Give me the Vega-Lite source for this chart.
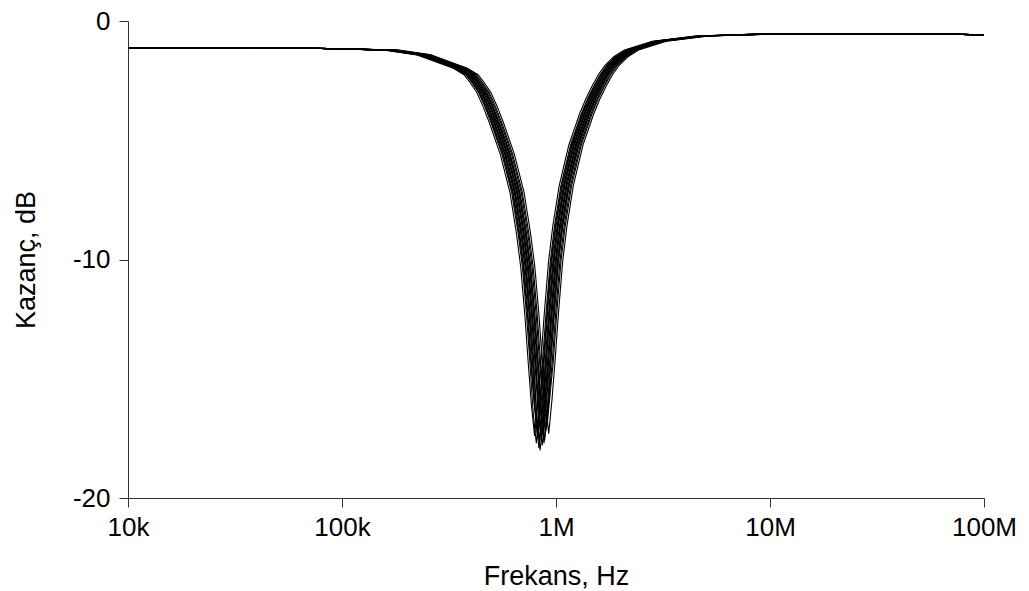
{
"$schema": "https://vega.github.io/schema/vega-lite/v6.json",
"width": 856, "height": 477,
"autosize": {"type": "none"},
"padding": {"left": 128, "top": 21, "right": 45, "bottom": 93},
"background": "white",
"config": {"view": {"stroke": null}, "font": "Liberation Sans"},
"data": {"values": [
{"run":1,"logf":4.0,"db":-1.12},{"run":1,"logf":4.5,"db":-1.12},{"run":1,"logf":4.8,"db":-1.13},{"run":1,"logf":5.0,"db":-1.17},
{"run":1,"logf":5.200,"db":-1.22},{"run":1,"logf":5.350,"db":-1.42},{"run":1,"logf":5.450,"db":-1.75},{"run":1,"logf":5.520,"db":-1.98},{"run":1,"logf":5.570,"db":-2.25},{"run":1,"logf":5.600,"db":-2.6},{"run":1,"logf":5.630,"db":-3.0},{"run":1,"logf":5.660,"db":-3.6},{"run":1,"logf":5.690,"db":-4.3},{"run":1,"logf":5.740,"db":-5.6},{"run":1,"logf":5.785,"db":-7.2},{"run":1,"logf":5.815,"db":-8.9},{"run":1,"logf":5.835,"db":-10.3},{"run":1,"logf":5.855,"db":-12.4},{"run":1,"logf":5.870,"db":-14.3},{"run":1,"logf":5.885,"db":-16.1},{"run":1,"logf":5.900,"db":-17.4},{"run":1,"logf":5.915,"db":-16.0},{"run":1,"logf":5.930,"db":-14.2},{"run":1,"logf":5.945,"db":-12.3},{"run":1,"logf":5.965,"db":-10.1},{"run":1,"logf":5.985,"db":-8.6},{"run":1,"logf":6.015,"db":-6.9},{"run":1,"logf":6.060,"db":-5.2},{"run":1,"logf":6.110,"db":-3.9},{"run":1,"logf":6.140,"db":-3.25},{"run":1,"logf":6.170,"db":-2.7},{"run":1,"logf":6.200,"db":-2.22},{"run":1,"logf":6.230,"db":-1.85},{"run":1,"logf":6.270,"db":-1.5},{"run":1,"logf":6.320,"db":-1.22},{"run":1,"logf":6.450,"db":-0.85},{"run":1,"logf":6.650,"db":-0.63},{"run":1,"logf":6.900,"db":-0.56},
{"run":1,"logf":7.2,"db":-0.535},{"run":1,"logf":7.5,"db":-0.53},{"run":1,"logf":7.75,"db":-0.535},{"run":1,"logf":8.0,"db":-0.58},

{"run":2,"logf":4.0,"db":-1.12},{"run":2,"logf":4.5,"db":-1.12},{"run":2,"logf":4.8,"db":-1.13},{"run":2,"logf":5.0,"db":-1.17},
{"run":2,"logf":5.208,"db":-1.22},{"run":2,"logf":5.358,"db":-1.42},{"run":2,"logf":5.458,"db":-1.75},{"run":2,"logf":5.528,"db":-1.98},{"run":2,"logf":5.578,"db":-2.25},{"run":2,"logf":5.608,"db":-2.6},{"run":2,"logf":5.638,"db":-3.0},{"run":2,"logf":5.668,"db":-3.6},{"run":2,"logf":5.698,"db":-4.3},{"run":2,"logf":5.748,"db":-5.6},{"run":2,"logf":5.793,"db":-7.2},{"run":2,"logf":5.823,"db":-8.9},{"run":2,"logf":5.843,"db":-10.3},{"run":2,"logf":5.863,"db":-12.4},{"run":2,"logf":5.878,"db":-14.3},{"run":2,"logf":5.893,"db":-16.4},{"run":2,"logf":5.908,"db":-17.7},{"run":2,"logf":5.923,"db":-16.3},{"run":2,"logf":5.938,"db":-14.2},{"run":2,"logf":5.953,"db":-12.3},{"run":2,"logf":5.973,"db":-10.1},{"run":2,"logf":5.993,"db":-8.6},{"run":2,"logf":6.023,"db":-6.9},{"run":2,"logf":6.068,"db":-5.2},{"run":2,"logf":6.118,"db":-3.9},{"run":2,"logf":6.148,"db":-3.25},{"run":2,"logf":6.178,"db":-2.7},{"run":2,"logf":6.208,"db":-2.22},{"run":2,"logf":6.238,"db":-1.85},{"run":2,"logf":6.278,"db":-1.5},{"run":2,"logf":6.328,"db":-1.22},{"run":2,"logf":6.458,"db":-0.85},{"run":2,"logf":6.658,"db":-0.63},{"run":2,"logf":6.908,"db":-0.56},
{"run":2,"logf":7.2,"db":-0.535},{"run":2,"logf":7.5,"db":-0.53},{"run":2,"logf":7.75,"db":-0.535},{"run":2,"logf":8.0,"db":-0.58},

{"run":3,"logf":4.0,"db":-1.12},{"run":3,"logf":4.5,"db":-1.12},{"run":3,"logf":4.8,"db":-1.13},{"run":3,"logf":5.0,"db":-1.17},
{"run":3,"logf":5.212,"db":-1.22},{"run":3,"logf":5.362,"db":-1.42},{"run":3,"logf":5.462,"db":-1.75},{"run":3,"logf":5.532,"db":-1.98},{"run":3,"logf":5.582,"db":-2.25},{"run":3,"logf":5.612,"db":-2.6},{"run":3,"logf":5.642,"db":-3.0},{"run":3,"logf":5.672,"db":-3.6},{"run":3,"logf":5.702,"db":-4.3},{"run":3,"logf":5.752,"db":-5.6},{"run":3,"logf":5.797,"db":-7.2},{"run":3,"logf":5.827,"db":-8.9},{"run":3,"logf":5.847,"db":-10.3},{"run":3,"logf":5.867,"db":-12.4},{"run":3,"logf":5.882,"db":-14.3},{"run":3,"logf":5.897,"db":-15.9},{"run":3,"logf":5.912,"db":-17.2},{"run":3,"logf":5.927,"db":-15.8},{"run":3,"logf":5.942,"db":-14.2},{"run":3,"logf":5.957,"db":-12.3},{"run":3,"logf":5.977,"db":-10.1},{"run":3,"logf":5.997,"db":-8.6},{"run":3,"logf":6.027,"db":-6.9},{"run":3,"logf":6.072,"db":-5.2},{"run":3,"logf":6.122,"db":-3.9},{"run":3,"logf":6.152,"db":-3.25},{"run":3,"logf":6.182,"db":-2.7},{"run":3,"logf":6.212,"db":-2.22},{"run":3,"logf":6.242,"db":-1.85},{"run":3,"logf":6.282,"db":-1.5},{"run":3,"logf":6.332,"db":-1.22},{"run":3,"logf":6.462,"db":-0.85},{"run":3,"logf":6.662,"db":-0.63},{"run":3,"logf":6.912,"db":-0.56},
{"run":3,"logf":7.2,"db":-0.535},{"run":3,"logf":7.5,"db":-0.53},{"run":3,"logf":7.75,"db":-0.535},{"run":3,"logf":8.0,"db":-0.58},

{"run":4,"logf":4.0,"db":-1.12},{"run":4,"logf":4.5,"db":-1.12},{"run":4,"logf":4.8,"db":-1.13},{"run":4,"logf":5.0,"db":-1.17},
{"run":4,"logf":5.215,"db":-1.22},{"run":4,"logf":5.365,"db":-1.42},{"run":4,"logf":5.465,"db":-1.75},{"run":4,"logf":5.535,"db":-1.98},{"run":4,"logf":5.585,"db":-2.25},{"run":4,"logf":5.615,"db":-2.6},{"run":4,"logf":5.645,"db":-3.0},{"run":4,"logf":5.675,"db":-3.6},{"run":4,"logf":5.705,"db":-4.3},{"run":4,"logf":5.755,"db":-5.6},{"run":4,"logf":5.800,"db":-7.2},{"run":4,"logf":5.830,"db":-8.9},{"run":4,"logf":5.850,"db":-10.3},{"run":4,"logf":5.870,"db":-12.4},{"run":4,"logf":5.885,"db":-14.3},{"run":4,"logf":5.900,"db":-16.2},{"run":4,"logf":5.915,"db":-17.5},{"run":4,"logf":5.930,"db":-16.1},{"run":4,"logf":5.945,"db":-14.2},{"run":4,"logf":5.960,"db":-12.3},{"run":4,"logf":5.980,"db":-10.1},{"run":4,"logf":6.000,"db":-8.6},{"run":4,"logf":6.030,"db":-6.9},{"run":4,"logf":6.075,"db":-5.2},{"run":4,"logf":6.125,"db":-3.9},{"run":4,"logf":6.155,"db":-3.25},{"run":4,"logf":6.185,"db":-2.7},{"run":4,"logf":6.215,"db":-2.22},{"run":4,"logf":6.245,"db":-1.85},{"run":4,"logf":6.285,"db":-1.5},{"run":4,"logf":6.335,"db":-1.22},{"run":4,"logf":6.465,"db":-0.85},{"run":4,"logf":6.665,"db":-0.63},{"run":4,"logf":6.915,"db":-0.56},
{"run":4,"logf":7.2,"db":-0.535},{"run":4,"logf":7.5,"db":-0.53},{"run":4,"logf":7.75,"db":-0.535},{"run":4,"logf":8.0,"db":-0.58},

{"run":5,"logf":4.0,"db":-1.12},{"run":5,"logf":4.5,"db":-1.12},{"run":5,"logf":4.8,"db":-1.13},{"run":5,"logf":5.0,"db":-1.17},
{"run":5,"logf":5.220,"db":-1.22},{"run":5,"logf":5.370,"db":-1.42},{"run":5,"logf":5.470,"db":-1.75},{"run":5,"logf":5.540,"db":-1.98},{"run":5,"logf":5.590,"db":-2.25},{"run":5,"logf":5.620,"db":-2.6},{"run":5,"logf":5.650,"db":-3.0},{"run":5,"logf":5.680,"db":-3.6},{"run":5,"logf":5.710,"db":-4.3},{"run":5,"logf":5.760,"db":-5.6},{"run":5,"logf":5.805,"db":-7.2},{"run":5,"logf":5.835,"db":-8.9},{"run":5,"logf":5.855,"db":-10.3},{"run":5,"logf":5.875,"db":-12.4},{"run":5,"logf":5.890,"db":-14.3},{"run":5,"logf":5.905,"db":-16.6},{"run":5,"logf":5.920,"db":-17.9},{"run":5,"logf":5.935,"db":-16.5},{"run":5,"logf":5.950,"db":-14.2},{"run":5,"logf":5.965,"db":-12.3},{"run":5,"logf":5.985,"db":-10.1},{"run":5,"logf":6.005,"db":-8.6},{"run":5,"logf":6.035,"db":-6.9},{"run":5,"logf":6.080,"db":-5.2},{"run":5,"logf":6.130,"db":-3.9},{"run":5,"logf":6.160,"db":-3.25},{"run":5,"logf":6.190,"db":-2.7},{"run":5,"logf":6.220,"db":-2.22},{"run":5,"logf":6.250,"db":-1.85},{"run":5,"logf":6.290,"db":-1.5},{"run":5,"logf":6.340,"db":-1.22},{"run":5,"logf":6.470,"db":-0.85},{"run":5,"logf":6.670,"db":-0.63},{"run":5,"logf":6.920,"db":-0.56},
{"run":5,"logf":7.2,"db":-0.535},{"run":5,"logf":7.5,"db":-0.53},{"run":5,"logf":7.75,"db":-0.535},{"run":5,"logf":8.0,"db":-0.58},

{"run":6,"logf":4.0,"db":-1.12},{"run":6,"logf":4.5,"db":-1.12},{"run":6,"logf":4.8,"db":-1.13},{"run":6,"logf":5.0,"db":-1.17},
{"run":6,"logf":5.223,"db":-1.22},{"run":6,"logf":5.373,"db":-1.42},{"run":6,"logf":5.473,"db":-1.75},{"run":6,"logf":5.543,"db":-1.98},{"run":6,"logf":5.593,"db":-2.25},{"run":6,"logf":5.623,"db":-2.6},{"run":6,"logf":5.653,"db":-3.0},{"run":6,"logf":5.683,"db":-3.6},{"run":6,"logf":5.713,"db":-4.3},{"run":6,"logf":5.763,"db":-5.6},{"run":6,"logf":5.808,"db":-7.2},{"run":6,"logf":5.838,"db":-8.9},{"run":6,"logf":5.858,"db":-10.3},{"run":6,"logf":5.878,"db":-12.4},{"run":6,"logf":5.893,"db":-14.3},{"run":6,"logf":5.908,"db":-16.3},{"run":6,"logf":5.923,"db":-17.6},{"run":6,"logf":5.938,"db":-16.2},{"run":6,"logf":5.953,"db":-14.2},{"run":6,"logf":5.968,"db":-12.3},{"run":6,"logf":5.988,"db":-10.1},{"run":6,"logf":6.008,"db":-8.6},{"run":6,"logf":6.038,"db":-6.9},{"run":6,"logf":6.083,"db":-5.2},{"run":6,"logf":6.133,"db":-3.9},{"run":6,"logf":6.163,"db":-3.25},{"run":6,"logf":6.193,"db":-2.7},{"run":6,"logf":6.223,"db":-2.22},{"run":6,"logf":6.253,"db":-1.85},{"run":6,"logf":6.293,"db":-1.5},{"run":6,"logf":6.343,"db":-1.22},{"run":6,"logf":6.473,"db":-0.85},{"run":6,"logf":6.673,"db":-0.63},{"run":6,"logf":6.923,"db":-0.56},
{"run":6,"logf":7.2,"db":-0.535},{"run":6,"logf":7.5,"db":-0.53},{"run":6,"logf":7.75,"db":-0.535},{"run":6,"logf":8.0,"db":-0.58},

{"run":7,"logf":4.0,"db":-1.12},{"run":7,"logf":4.5,"db":-1.12},{"run":7,"logf":4.8,"db":-1.13},{"run":7,"logf":5.0,"db":-1.17},
{"run":7,"logf":5.226,"db":-1.22},{"run":7,"logf":5.376,"db":-1.42},{"run":7,"logf":5.476,"db":-1.75},{"run":7,"logf":5.546,"db":-1.98},{"run":7,"logf":5.596,"db":-2.25},{"run":7,"logf":5.626,"db":-2.6},{"run":7,"logf":5.656,"db":-3.0},{"run":7,"logf":5.686,"db":-3.6},{"run":7,"logf":5.716,"db":-4.3},{"run":7,"logf":5.766,"db":-5.6},{"run":7,"logf":5.811,"db":-7.2},{"run":7,"logf":5.841,"db":-8.9},{"run":7,"logf":5.861,"db":-10.3},{"run":7,"logf":5.881,"db":-12.4},{"run":7,"logf":5.896,"db":-14.3},{"run":7,"logf":5.911,"db":-16.7},{"run":7,"logf":5.926,"db":-18.0},{"run":7,"logf":5.941,"db":-16.6},{"run":7,"logf":5.956,"db":-14.2},{"run":7,"logf":5.971,"db":-12.3},{"run":7,"logf":5.991,"db":-10.1},{"run":7,"logf":6.011,"db":-8.6},{"run":7,"logf":6.041,"db":-6.9},{"run":7,"logf":6.086,"db":-5.2},{"run":7,"logf":6.136,"db":-3.9},{"run":7,"logf":6.166,"db":-3.25},{"run":7,"logf":6.196,"db":-2.7},{"run":7,"logf":6.226,"db":-2.22},{"run":7,"logf":6.256,"db":-1.85},{"run":7,"logf":6.296,"db":-1.5},{"run":7,"logf":6.346,"db":-1.22},{"run":7,"logf":6.476,"db":-0.85},{"run":7,"logf":6.676,"db":-0.63},{"run":7,"logf":6.926,"db":-0.56},
{"run":7,"logf":7.2,"db":-0.535},{"run":7,"logf":7.5,"db":-0.53},{"run":7,"logf":7.75,"db":-0.535},{"run":7,"logf":8.0,"db":-0.58},

{"run":8,"logf":4.0,"db":-1.12},{"run":8,"logf":4.5,"db":-1.12},{"run":8,"logf":4.8,"db":-1.13},{"run":8,"logf":5.0,"db":-1.17},
{"run":8,"logf":5.231,"db":-1.22},{"run":8,"logf":5.381,"db":-1.42},{"run":8,"logf":5.481,"db":-1.75},{"run":8,"logf":5.551,"db":-1.98},{"run":8,"logf":5.601,"db":-2.25},{"run":8,"logf":5.631,"db":-2.6},{"run":8,"logf":5.661,"db":-3.0},{"run":8,"logf":5.691,"db":-3.6},{"run":8,"logf":5.721,"db":-4.3},{"run":8,"logf":5.771,"db":-5.6},{"run":8,"logf":5.816,"db":-7.2},{"run":8,"logf":5.846,"db":-8.9},{"run":8,"logf":5.866,"db":-10.3},{"run":8,"logf":5.886,"db":-12.4},{"run":8,"logf":5.901,"db":-14.3},{"run":8,"logf":5.916,"db":-16.3},{"run":8,"logf":5.931,"db":-17.6},{"run":8,"logf":5.946,"db":-16.2},{"run":8,"logf":5.961,"db":-14.2},{"run":8,"logf":5.976,"db":-12.3},{"run":8,"logf":5.996,"db":-10.1},{"run":8,"logf":6.016,"db":-8.6},{"run":8,"logf":6.046,"db":-6.9},{"run":8,"logf":6.091,"db":-5.2},{"run":8,"logf":6.141,"db":-3.9},{"run":8,"logf":6.171,"db":-3.25},{"run":8,"logf":6.201,"db":-2.7},{"run":8,"logf":6.231,"db":-2.22},{"run":8,"logf":6.261,"db":-1.85},{"run":8,"logf":6.301,"db":-1.5},{"run":8,"logf":6.351,"db":-1.22},{"run":8,"logf":6.481,"db":-0.85},{"run":8,"logf":6.681,"db":-0.63},{"run":8,"logf":6.931,"db":-0.56},
{"run":8,"logf":7.2,"db":-0.535},{"run":8,"logf":7.5,"db":-0.53},{"run":8,"logf":7.75,"db":-0.535},{"run":8,"logf":8.0,"db":-0.58},

{"run":9,"logf":4.0,"db":-1.12},{"run":9,"logf":4.5,"db":-1.12},{"run":9,"logf":4.8,"db":-1.13},{"run":9,"logf":5.0,"db":-1.17},
{"run":9,"logf":5.234,"db":-1.22},{"run":9,"logf":5.384,"db":-1.42},{"run":9,"logf":5.484,"db":-1.75},{"run":9,"logf":5.554,"db":-1.98},{"run":9,"logf":5.604,"db":-2.25},{"run":9,"logf":5.634,"db":-2.6},{"run":9,"logf":5.664,"db":-3.0},{"run":9,"logf":5.694,"db":-3.6},{"run":9,"logf":5.724,"db":-4.3},{"run":9,"logf":5.774,"db":-5.6},{"run":9,"logf":5.819,"db":-7.2},{"run":9,"logf":5.849,"db":-8.9},{"run":9,"logf":5.869,"db":-10.3},{"run":9,"logf":5.889,"db":-12.4},{"run":9,"logf":5.904,"db":-14.3},{"run":9,"logf":5.919,"db":-16.1},{"run":9,"logf":5.934,"db":-17.4},{"run":9,"logf":5.949,"db":-16.0},{"run":9,"logf":5.964,"db":-14.2},{"run":9,"logf":5.979,"db":-12.3},{"run":9,"logf":5.999,"db":-10.1},{"run":9,"logf":6.019,"db":-8.6},{"run":9,"logf":6.049,"db":-6.9},{"run":9,"logf":6.094,"db":-5.2},{"run":9,"logf":6.144,"db":-3.9},{"run":9,"logf":6.174,"db":-3.25},{"run":9,"logf":6.204,"db":-2.7},{"run":9,"logf":6.234,"db":-2.22},{"run":9,"logf":6.264,"db":-1.85},{"run":9,"logf":6.304,"db":-1.5},{"run":9,"logf":6.354,"db":-1.22},{"run":9,"logf":6.484,"db":-0.85},{"run":9,"logf":6.684,"db":-0.63},{"run":9,"logf":6.934,"db":-0.56},
{"run":9,"logf":7.2,"db":-0.535},{"run":9,"logf":7.5,"db":-0.53},{"run":9,"logf":7.75,"db":-0.535},{"run":9,"logf":8.0,"db":-0.58},

{"run":10,"logf":4.0,"db":-1.12},{"run":10,"logf":4.5,"db":-1.12},{"run":10,"logf":4.8,"db":-1.13},{"run":10,"logf":5.0,"db":-1.17},
{"run":10,"logf":5.236,"db":-1.22},{"run":10,"logf":5.386,"db":-1.42},{"run":10,"logf":5.486,"db":-1.75},{"run":10,"logf":5.556,"db":-1.98},{"run":10,"logf":5.606,"db":-2.25},{"run":10,"logf":5.636,"db":-2.6},{"run":10,"logf":5.666,"db":-3.0},{"run":10,"logf":5.696,"db":-3.6},{"run":10,"logf":5.726,"db":-4.3},{"run":10,"logf":5.776,"db":-5.6},{"run":10,"logf":5.821,"db":-7.2},{"run":10,"logf":5.851,"db":-8.9},{"run":10,"logf":5.871,"db":-10.3},{"run":10,"logf":5.891,"db":-12.4},{"run":10,"logf":5.906,"db":-14.3},{"run":10,"logf":5.921,"db":-16.5},{"run":10,"logf":5.936,"db":-17.8},{"run":10,"logf":5.951,"db":-16.4},{"run":10,"logf":5.966,"db":-14.2},{"run":10,"logf":5.981,"db":-12.3},{"run":10,"logf":6.001,"db":-10.1},{"run":10,"logf":6.021,"db":-8.6},{"run":10,"logf":6.051,"db":-6.9},{"run":10,"logf":6.096,"db":-5.2},{"run":10,"logf":6.146,"db":-3.9},{"run":10,"logf":6.176,"db":-3.25},{"run":10,"logf":6.206,"db":-2.7},{"run":10,"logf":6.236,"db":-2.22},{"run":10,"logf":6.266,"db":-1.85},{"run":10,"logf":6.306,"db":-1.5},{"run":10,"logf":6.356,"db":-1.22},{"run":10,"logf":6.486,"db":-0.85},{"run":10,"logf":6.686,"db":-0.63},{"run":10,"logf":6.936,"db":-0.56},
{"run":10,"logf":7.2,"db":-0.535},{"run":10,"logf":7.5,"db":-0.53},{"run":10,"logf":7.75,"db":-0.535},{"run":10,"logf":8.0,"db":-0.58},

{"run":11,"logf":4.0,"db":-1.12},{"run":11,"logf":4.5,"db":-1.12},{"run":11,"logf":4.8,"db":-1.13},{"run":11,"logf":5.0,"db":-1.17},
{"run":11,"logf":5.241,"db":-1.22},{"run":11,"logf":5.391,"db":-1.42},{"run":11,"logf":5.491,"db":-1.75},{"run":11,"logf":5.561,"db":-1.98},{"run":11,"logf":5.611,"db":-2.25},{"run":11,"logf":5.641,"db":-2.6},{"run":11,"logf":5.671,"db":-3.0},{"run":11,"logf":5.701,"db":-3.6},{"run":11,"logf":5.731,"db":-4.3},{"run":11,"logf":5.781,"db":-5.6},{"run":11,"logf":5.826,"db":-7.2},{"run":11,"logf":5.856,"db":-8.9},{"run":11,"logf":5.876,"db":-10.3},{"run":11,"logf":5.896,"db":-12.4},{"run":11,"logf":5.911,"db":-14.3},{"run":11,"logf":5.926,"db":-16.0},{"run":11,"logf":5.941,"db":-17.3},{"run":11,"logf":5.956,"db":-15.9},{"run":11,"logf":5.971,"db":-14.2},{"run":11,"logf":5.986,"db":-12.3},{"run":11,"logf":6.006,"db":-10.1},{"run":11,"logf":6.026,"db":-8.6},{"run":11,"logf":6.056,"db":-6.9},{"run":11,"logf":6.101,"db":-5.2},{"run":11,"logf":6.151,"db":-3.9},{"run":11,"logf":6.181,"db":-3.25},{"run":11,"logf":6.211,"db":-2.7},{"run":11,"logf":6.241,"db":-2.22},{"run":11,"logf":6.271,"db":-1.85},{"run":11,"logf":6.311,"db":-1.5},{"run":11,"logf":6.361,"db":-1.22},{"run":11,"logf":6.491,"db":-0.85},{"run":11,"logf":6.691,"db":-0.63},{"run":11,"logf":6.941,"db":-0.56},
{"run":11,"logf":7.2,"db":-0.535},{"run":11,"logf":7.5,"db":-0.53},{"run":11,"logf":7.75,"db":-0.535},{"run":11,"logf":8.0,"db":-0.58},

{"run":12,"logf":4.0,"db":-1.12},{"run":12,"logf":4.5,"db":-1.12},{"run":12,"logf":4.8,"db":-1.13},{"run":12,"logf":5.0,"db":-1.17},
{"run":12,"logf":5.244,"db":-1.22},{"run":12,"logf":5.394,"db":-1.42},{"run":12,"logf":5.494,"db":-1.75},{"run":12,"logf":5.564,"db":-1.98},{"run":12,"logf":5.614,"db":-2.25},{"run":12,"logf":5.644,"db":-2.6},{"run":12,"logf":5.674,"db":-3.0},{"run":12,"logf":5.704,"db":-3.6},{"run":12,"logf":5.734,"db":-4.3},{"run":12,"logf":5.784,"db":-5.6},{"run":12,"logf":5.829,"db":-7.2},{"run":12,"logf":5.859,"db":-8.9},{"run":12,"logf":5.879,"db":-10.3},{"run":12,"logf":5.899,"db":-12.4},{"run":12,"logf":5.914,"db":-14.3},{"run":12,"logf":5.929,"db":-16.4},{"run":12,"logf":5.944,"db":-17.7},{"run":12,"logf":5.959,"db":-16.3},{"run":12,"logf":5.974,"db":-14.2},{"run":12,"logf":5.989,"db":-12.3},{"run":12,"logf":6.009,"db":-10.1},{"run":12,"logf":6.029,"db":-8.6},{"run":12,"logf":6.059,"db":-6.9},{"run":12,"logf":6.104,"db":-5.2},{"run":12,"logf":6.154,"db":-3.9},{"run":12,"logf":6.184,"db":-3.25},{"run":12,"logf":6.214,"db":-2.7},{"run":12,"logf":6.244,"db":-2.22},{"run":12,"logf":6.274,"db":-1.85},{"run":12,"logf":6.314,"db":-1.5},{"run":12,"logf":6.364,"db":-1.22},{"run":12,"logf":6.494,"db":-0.85},{"run":12,"logf":6.694,"db":-0.63},{"run":12,"logf":6.944,"db":-0.56},
{"run":12,"logf":7.2,"db":-0.535},{"run":12,"logf":7.5,"db":-0.53},{"run":12,"logf":7.75,"db":-0.535},{"run":12,"logf":8.0,"db":-0.58},

{"run":13,"logf":4.0,"db":-1.12},{"run":13,"logf":4.5,"db":-1.12},{"run":13,"logf":4.8,"db":-1.13},{"run":13,"logf":5.0,"db":-1.17},
{"run":13,"logf":5.247,"db":-1.22},{"run":13,"logf":5.397,"db":-1.42},{"run":13,"logf":5.497,"db":-1.75},{"run":13,"logf":5.567,"db":-1.98},{"run":13,"logf":5.617,"db":-2.25},{"run":13,"logf":5.647,"db":-2.6},{"run":13,"logf":5.677,"db":-3.0},{"run":13,"logf":5.707,"db":-3.6},{"run":13,"logf":5.737,"db":-4.3},{"run":13,"logf":5.787,"db":-5.6},{"run":13,"logf":5.832,"db":-7.2},{"run":13,"logf":5.862,"db":-8.9},{"run":13,"logf":5.882,"db":-10.3},{"run":13,"logf":5.902,"db":-12.4},{"run":13,"logf":5.917,"db":-14.3},{"run":13,"logf":5.932,"db":-16.3},{"run":13,"logf":5.947,"db":-17.6},{"run":13,"logf":5.962,"db":-16.2},{"run":13,"logf":5.977,"db":-14.2},{"run":13,"logf":5.992,"db":-12.3},{"run":13,"logf":6.012,"db":-10.1},{"run":13,"logf":6.032,"db":-8.6},{"run":13,"logf":6.062,"db":-6.9},{"run":13,"logf":6.107,"db":-5.2},{"run":13,"logf":6.157,"db":-3.9},{"run":13,"logf":6.187,"db":-3.25},{"run":13,"logf":6.217,"db":-2.7},{"run":13,"logf":6.247,"db":-2.22},{"run":13,"logf":6.277,"db":-1.85},{"run":13,"logf":6.317,"db":-1.5},{"run":13,"logf":6.367,"db":-1.22},{"run":13,"logf":6.497,"db":-0.85},{"run":13,"logf":6.697,"db":-0.63},{"run":13,"logf":6.947,"db":-0.56},
{"run":13,"logf":7.2,"db":-0.535},{"run":13,"logf":7.5,"db":-0.53},{"run":13,"logf":7.75,"db":-0.535},{"run":13,"logf":8.0,"db":-0.58},

{"run":14,"logf":4.0,"db":-1.12},{"run":14,"logf":4.5,"db":-1.12},{"run":14,"logf":4.8,"db":-1.13},{"run":14,"logf":5.0,"db":-1.17},
{"run":14,"logf":5.253,"db":-1.22},{"run":14,"logf":5.403,"db":-1.42},{"run":14,"logf":5.503,"db":-1.75},{"run":14,"logf":5.573,"db":-1.98},{"run":14,"logf":5.623,"db":-2.25},{"run":14,"logf":5.653,"db":-2.6},{"run":14,"logf":5.683,"db":-3.0},{"run":14,"logf":5.713,"db":-3.6},{"run":14,"logf":5.743,"db":-4.3},{"run":14,"logf":5.793,"db":-5.6},{"run":14,"logf":5.838,"db":-7.2},{"run":14,"logf":5.868,"db":-8.9},{"run":14,"logf":5.888,"db":-10.3},{"run":14,"logf":5.908,"db":-12.4},{"run":14,"logf":5.923,"db":-14.3},{"run":14,"logf":5.938,"db":-15.9},{"run":14,"logf":5.953,"db":-17.2},{"run":14,"logf":5.968,"db":-15.8},{"run":14,"logf":5.983,"db":-14.2},{"run":14,"logf":5.998,"db":-12.3},{"run":14,"logf":6.018,"db":-10.1},{"run":14,"logf":6.038,"db":-8.6},{"run":14,"logf":6.068,"db":-6.9},{"run":14,"logf":6.113,"db":-5.2},{"run":14,"logf":6.163,"db":-3.9},{"run":14,"logf":6.193,"db":-3.25},{"run":14,"logf":6.223,"db":-2.7},{"run":14,"logf":6.253,"db":-2.22},{"run":14,"logf":6.283,"db":-1.85},{"run":14,"logf":6.323,"db":-1.5},{"run":14,"logf":6.373,"db":-1.22},{"run":14,"logf":6.503,"db":-0.85},{"run":14,"logf":6.703,"db":-0.63},{"run":14,"logf":6.953,"db":-0.56},
{"run":14,"logf":7.2,"db":-0.535},{"run":14,"logf":7.5,"db":-0.53},{"run":14,"logf":7.75,"db":-0.535},{"run":14,"logf":8.0,"db":-0.58},

{"run":15,"logf":4.0,"db":-1.12},{"run":15,"logf":4.5,"db":-1.12},{"run":15,"logf":4.8,"db":-1.13},{"run":15,"logf":5.0,"db":-1.17},
{"run":15,"logf":5.258,"db":-1.22},{"run":15,"logf":5.408,"db":-1.42},{"run":15,"logf":5.508,"db":-1.75},{"run":15,"logf":5.578,"db":-1.98},{"run":15,"logf":5.628,"db":-2.25},{"run":15,"logf":5.658,"db":-2.6},{"run":15,"logf":5.688,"db":-3.0},{"run":15,"logf":5.718,"db":-3.6},{"run":15,"logf":5.748,"db":-4.3},{"run":15,"logf":5.798,"db":-5.6},{"run":15,"logf":5.843,"db":-7.2},{"run":15,"logf":5.873,"db":-8.9},{"run":15,"logf":5.893,"db":-10.3},{"run":15,"logf":5.913,"db":-12.4},{"run":15,"logf":5.928,"db":-14.3},{"run":15,"logf":5.943,"db":-15.7},{"run":15,"logf":5.958,"db":-17.0},{"run":15,"logf":5.973,"db":-15.6},{"run":15,"logf":5.988,"db":-14.2},{"run":15,"logf":6.003,"db":-12.3},{"run":15,"logf":6.023,"db":-10.1},{"run":15,"logf":6.043,"db":-8.6},{"run":15,"logf":6.073,"db":-6.9},{"run":15,"logf":6.118,"db":-5.2},{"run":15,"logf":6.168,"db":-3.9},{"run":15,"logf":6.198,"db":-3.25},{"run":15,"logf":6.228,"db":-2.7},{"run":15,"logf":6.258,"db":-2.22},{"run":15,"logf":6.288,"db":-1.85},{"run":15,"logf":6.328,"db":-1.5},{"run":15,"logf":6.378,"db":-1.22},{"run":15,"logf":6.508,"db":-0.85},{"run":15,"logf":6.708,"db":-0.63},{"run":15,"logf":6.958,"db":-0.56},
{"run":15,"logf":7.2,"db":-0.535},{"run":15,"logf":7.5,"db":-0.53},{"run":15,"logf":7.75,"db":-0.535},{"run":15,"logf":8.0,"db":-0.58},

{"run":16,"logf":4.0,"db":-1.12},{"run":16,"logf":4.5,"db":-1.12},{"run":16,"logf":4.8,"db":-1.13},{"run":16,"logf":5.0,"db":-1.17},
{"run":16,"logf":5.266,"db":-1.22},{"run":16,"logf":5.416,"db":-1.42},{"run":16,"logf":5.516,"db":-1.75},{"run":16,"logf":5.586,"db":-1.98},{"run":16,"logf":5.636,"db":-2.25},{"run":16,"logf":5.666,"db":-2.6},{"run":16,"logf":5.696,"db":-3.0},{"run":16,"logf":5.726,"db":-3.6},{"run":16,"logf":5.756,"db":-4.3},{"run":16,"logf":5.806,"db":-5.6},{"run":16,"logf":5.851,"db":-7.2},{"run":16,"logf":5.881,"db":-8.9},{"run":16,"logf":5.901,"db":-10.3},{"run":16,"logf":5.921,"db":-12.4},{"run":16,"logf":5.936,"db":-14.3},{"run":16,"logf":5.951,"db":-16.0},{"run":16,"logf":5.966,"db":-17.3},{"run":16,"logf":5.981,"db":-15.9},{"run":16,"logf":5.996,"db":-14.2},{"run":16,"logf":6.011,"db":-12.3},{"run":16,"logf":6.031,"db":-10.1},{"run":16,"logf":6.051,"db":-8.6},{"run":16,"logf":6.081,"db":-6.9},{"run":16,"logf":6.126,"db":-5.2},{"run":16,"logf":6.176,"db":-3.9},{"run":16,"logf":6.206,"db":-3.25},{"run":16,"logf":6.236,"db":-2.7},{"run":16,"logf":6.266,"db":-2.22},{"run":16,"logf":6.296,"db":-1.85},{"run":16,"logf":6.336,"db":-1.5},{"run":16,"logf":6.386,"db":-1.22},{"run":16,"logf":6.516,"db":-0.85},{"run":16,"logf":6.716,"db":-0.63},{"run":16,"logf":6.966,"db":-0.56},
{"run":16,"logf":7.2,"db":-0.535},{"run":16,"logf":7.5,"db":-0.53},{"run":16,"logf":7.75,"db":-0.535},{"run":16,"logf":8.0,"db":-0.58}
]},
"mark": {"type": "line", "color": "black", "strokeWidth": 1.1, "clip": true},
"encoding": {
  "x": {"field": "logf", "type": "quantitative", "scale": {"domain": [4, 8], "nice": false, "zero": false},
    "axis": {"title": "Frekans, Hz", "values": [4, 5, 6, 7, 8],
      "labelExpr": "datum.value == 4 ? '10k' : datum.value == 5 ? '100k' : datum.value == 6 ? '1M' : datum.value == 7 ? '10M' : '100M'",
      "grid": false, "domainColor": "#333333", "tickColor": "#333333", "tickSize": 9,
      "labelFontSize": 26, "labelColor": "black", "labelPadding": 7, "labelFlush": false,
      "titleFontSize": 27, "titleFontWeight": "normal", "titleColor": "black", "titlePadding": 23}},
  "y": {"field": "db", "type": "quantitative", "scale": {"domain": [-20, 0], "nice": false, "zero": false},
    "axis": {"title": "Kazanç, dB", "values": [-20, -10, 0],
      "labelExpr": "datum.value == 0 ? '0' : datum.value == -10 ? '-10' : '-20'",
      "grid": false, "domainColor": "#333333", "tickColor": "#333333", "tickSize": 9,
      "labelFontSize": 26, "labelColor": "black", "labelPadding": 9, "labelFlush": false,
      "titleFontSize": 27, "titleFontWeight": "normal", "titleColor": "black", "titlePadding": 32}},
  "detail": {"field": "run", "type": "nominal"}
}
}
